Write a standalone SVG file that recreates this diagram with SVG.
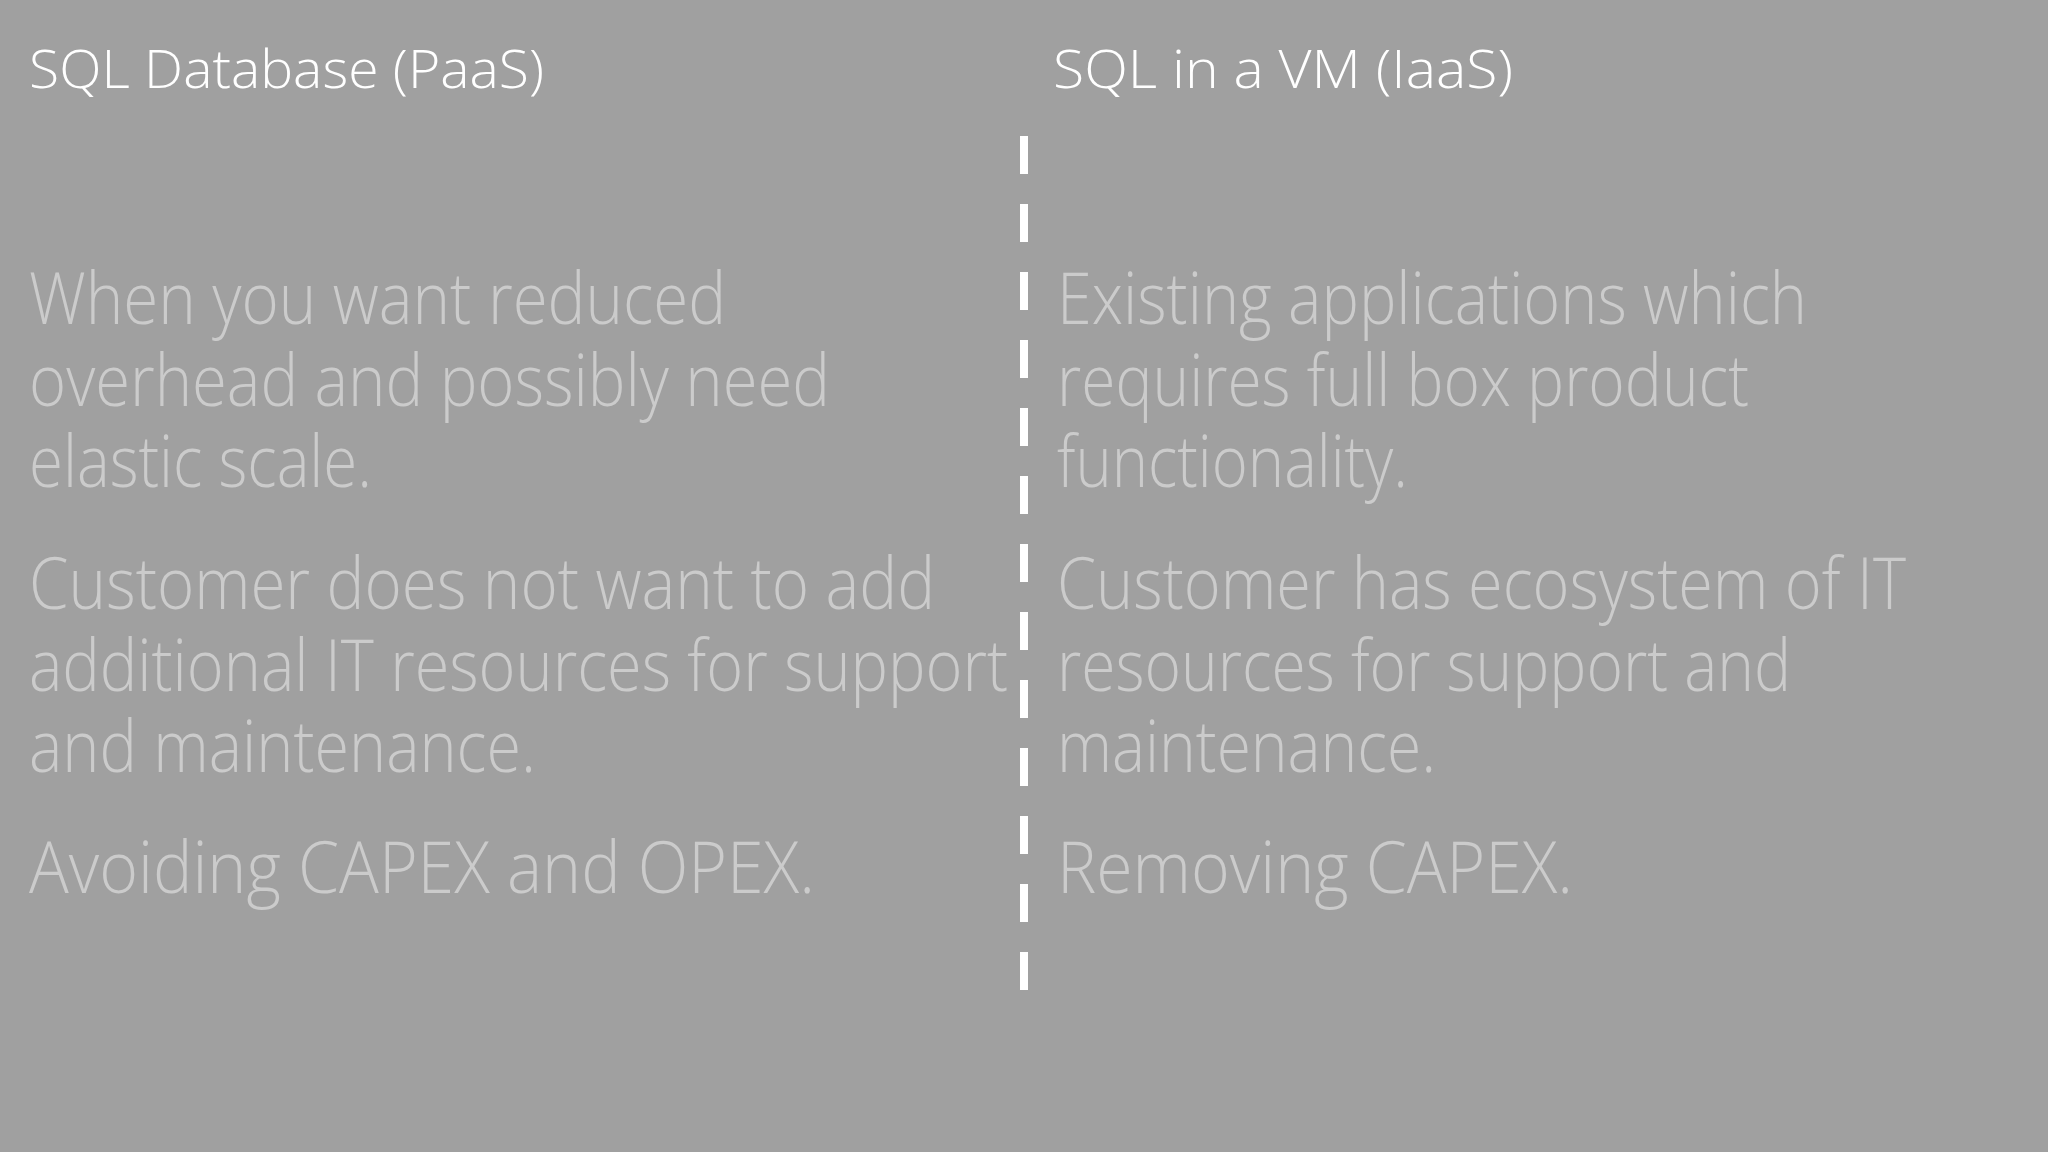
<svg xmlns="http://www.w3.org/2000/svg" width="2048" height="1152" viewBox="0 0 2048 1152">
<style>
.t{font-family:"Open Sans","Liberation Sans",sans-serif;font-weight:300;fill:#ffffff;font-size:54px}
.b{font-family:"Open Sans","Liberation Sans",sans-serif;font-weight:300;fill:#cbcbcb;font-size:72px}
</style>
<rect width="2048" height="1152" fill="#a0a0a0"/>
<g id="left">
<text class="t" x="29" y="88" textLength="515" lengthAdjust="spacingAndGlyphs">SQL Database (PaaS)</text>
<text class="b" x="29" y="324" textLength="697" lengthAdjust="spacingAndGlyphs">When you want reduced</text>
<text class="b" x="29" y="406" textLength="801" lengthAdjust="spacingAndGlyphs">overhead and possibly need</text>
<text class="b" x="29" y="487" textLength="343" lengthAdjust="spacingAndGlyphs">elastic scale.</text>
<text class="b" x="29" y="609" textLength="906" lengthAdjust="spacingAndGlyphs">Customer does not want to add</text>
<text class="b" x="29" y="691" textLength="979" lengthAdjust="spacingAndGlyphs">additional IT resources for support</text>
<text class="b" x="29" y="772" textLength="507" lengthAdjust="spacingAndGlyphs">and maintenance.</text>
<text class="b" x="29" y="893" textLength="786" lengthAdjust="spacingAndGlyphs">Avoiding CAPEX and OPEX.</text>
</g>
<g id="right">
<text class="t" x="1053" y="88" textLength="460" lengthAdjust="spacingAndGlyphs">SQL in a VM (IaaS)</text>
<text class="b" x="1057" y="324" textLength="750" lengthAdjust="spacingAndGlyphs">Existing applications which</text>
<text class="b" x="1057" y="406" textLength="692" lengthAdjust="spacingAndGlyphs">requires full box product</text>
<text class="b" x="1057" y="487" textLength="351" lengthAdjust="spacingAndGlyphs">functionality.</text>
<text class="b" x="1057" y="609" textLength="849" lengthAdjust="spacingAndGlyphs">Customer has ecosystem of IT</text>
<text class="b" x="1057" y="691" textLength="734" lengthAdjust="spacingAndGlyphs">resources for support and</text>
<text class="b" x="1057" y="772" textLength="379" lengthAdjust="spacingAndGlyphs">maintenance.</text>
<text class="b" x="1057" y="893" textLength="516" lengthAdjust="spacingAndGlyphs">Removing CAPEX.</text>
</g>
<g id="connectors">
<line x1="1024" y1="136" x2="1024" y2="992" stroke="#ffffff" stroke-width="8" stroke-dasharray="38 30"/>
</g>
</svg>
